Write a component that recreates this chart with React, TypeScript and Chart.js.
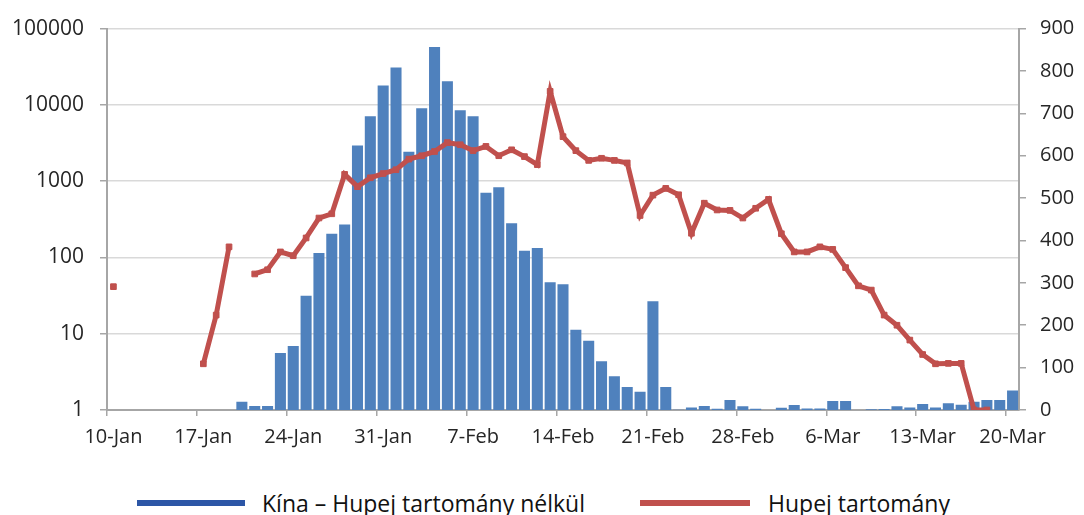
import React, { useEffect, useRef } from "react";
import { Chart, registerables } from "chart.js";

Chart.register(...registerables);

const categories: string[] = [
  "10-Jan", "11-Jan", "12-Jan", "13-Jan", "14-Jan", "15-Jan", "16-Jan",
  "17-Jan", "18-Jan", "19-Jan", "20-Jan", "21-Jan", "22-Jan", "23-Jan",
  "24-Jan", "25-Jan", "26-Jan", "27-Jan", "28-Jan", "29-Jan", "30-Jan",
  "31-Jan", "1-Feb", "2-Feb", "3-Feb", "4-Feb", "5-Feb", "6-Feb",
  "7-Feb", "8-Feb", "9-Feb", "10-Feb", "11-Feb", "12-Feb", "13-Feb",
  "14-Feb", "15-Feb", "16-Feb", "17-Feb", "18-Feb", "19-Feb", "20-Feb",
  "21-Feb", "22-Feb", "23-Feb", "24-Feb", "25-Feb", "26-Feb", "27-Feb",
  "28-Feb", "29-Feb", "1-Mar", "2-Mar", "3-Mar", "4-Mar", "5-Mar",
  "6-Mar", "7-Mar", "8-Mar", "9-Mar", "10-Mar", "11-Mar", "12-Mar",
  "13-Mar", "14-Mar", "15-Mar", "16-Mar", "17-Mar", "18-Mar", "19-Mar",
  "20-Mar",
];

const tickLabels: string[] = [
  "10-Jan", "17-Jan", "24-Jan", "31-Jan", "7-Feb", "14-Feb",
  "21-Feb", "28-Feb", "6-Mar", "13-Mar", "20-Mar",
];

// Kína – Hupej tartomány nélkül (left, log axis)
const chinaExHubei: (number | null)[] = [
  null, null, null, null, null, null, null,
  null, null, null, 1.28, 1.13, 1.13, 5.6,
  6.9, 31.5, 114, 204, 270, 2935, 7100,
  17900, 31000, 2425, 9010, 57300, 20400, 8490,
  7100, 707, 829, 281, 122, 133, 47.3,
  44.6, 11.3, 8.1, 4.35, 2.78, 2.0, 1.73,
  26.6, 2.0, 1.01, 1.08, 1.13, 1.04, 1.35,
  1.12, 1.04, null, 1.07, 1.16, 1.05, 1.05,
  1.31, 1.31, null, 1.02, 1.03, 1.12, 1.08,
  1.2, 1.08, 1.23, 1.17, 1.28, 1.35, 1.35,
  1.8,
];

// Hupej tartomány (right, linear axis)
const hubei: (number | null)[] = [
  291, null, null, null, null, null, null,
  109, 224, 385, null, 321, 331, 373,
  364, 406, 453, 463, 556, 527, 548,
  558, 567, 592, 600, 610, 631, 626,
  612, 622, 600, 614, 598, 579, 752,
  645, 612, 589, 594, 589, 583, 459,
  507, 523, 508, 417, 488, 472, 471,
  453, 476, 497, 416, 373, 373, 385,
  379, 336, 293, 283, 224, 200, 165,
  131, 109, 110, 110, 0, 0, null,
  null,
];

const leftTicks: number[] = [1, 10, 100, 1000, 10000, 100000];
const rightMax = 900;
const rightStep = 100;

const seriesNames: string[] = ["Kína – Hupej tartomány nélkül", "Hupej tartomány"];

const FONT = "'Open Sans', 'DejaVu Sans', sans-serif";
const BAR_COLOR = "#4f81bd";
const LINE_COLOR = "#c0504d";
const LEGEND_BLUE = "#2c56a6";
const GRID = "#d9d9d9";
const AXIS = "#a6a6a6";
const TEXT = "#262626";

const W = 1084;
const CH = 460;

export default function App() {
  const ref = useRef<HTMLCanvasElement | null>(null);

  useEffect(() => {
    document.body.style.margin = "0";
    const canvas = ref.current;
    if (!canvas) return;
    const chart = new Chart(canvas, {
      type: "bar",
      data: {
        labels: categories,
        datasets: [
          {
            type: "line",
            label: seriesNames[1],
            data: hubei,
            yAxisID: "y1",
            borderColor: LINE_COLOR,
            backgroundColor: LINE_COLOR,
            borderWidth: 5,
            pointStyle: "rect",
            pointRadius: 4,
            pointBorderWidth: 1,
            pointBackgroundColor: LINE_COLOR,
            pointBorderColor: LINE_COLOR,
            spanGaps: false,
            tension: 0,
            order: 0,
          } as any,
          {
            type: "bar",
            label: seriesNames[0],
            data: chinaExHubei,
            yAxisID: "y",
            backgroundColor: BAR_COLOR,
            borderWidth: 0,
            barPercentage: 0.86,
            categoryPercentage: 1,
            order: 1,
          } as any,
        ],
      },
      options: {
        responsive: false,
        animation: false,
        devicePixelRatio: 1,
        layout: { padding: { top: 21, left: 0, right: 0, bottom: 0 } },
        plugins: {
          legend: { display: false },
          tooltip: { enabled: false },
        },
        scales: {
          x: {
            type: "category",
            offset: true,
            grid: {
              offset: true,
              display: true,
              drawOnChartArea: false,
              drawTicks: true,
              tickLength: 6,
              lineWidth: 1.5,
              color: (ctx: any) =>
                typeof ctx.index === "number" && ctx.index % 7 === 0 ? AXIS : "rgba(0,0,0,0)",
            },
            border: { display: true, color: AXIS, width: 2 },
            ticks: {
              autoSkip: false,
              maxRotation: 0,
              minRotation: 0,
              padding: 9,
              color: TEXT,
              font: { family: FONT, size: 20 },
              callback: (_v: any, i: number) =>
                tickLabels.includes(categories[i]) ? categories[i] : "",
            },
            afterFit: (s: any) => {
              s.height = CH - 410;
            },
          },
          y: {
            type: "logarithmic",
            position: "left",
            min: 1,
            max: 100000,
            afterBuildTicks: (s: any) => {
              s.ticks = leftTicks.map((v) => ({ value: v }));
            },
            grid: {
              color: GRID,
              lineWidth: 1.5,
              drawTicks: true,
              tickLength: 7,
              tickColor: AXIS,
            },
            border: { display: true, color: AXIS, width: 2 },
            ticks: {
              padding: 16,
              color: TEXT,
              font: { family: FONT, size: 21 },
              callback: (v: any) => String(v),
            },
            afterFit: (s: any) => {
              s.width = 107;
            },
          },
          y1: {
            type: "linear",
            position: "right",
            min: 0,
            max: rightMax,
            ticks: {
              stepSize: rightStep,
              padding: 14,
              color: TEXT,
              font: { family: FONT, size: 20 },
            },
            grid: {
              drawOnChartArea: false,
              drawTicks: true,
              tickLength: 7,
              color: AXIS,
              tickColor: AXIS,
              lineWidth: 1.5,
            },
            border: { display: true, color: AXIS, width: 2 },
            afterFit: (s: any) => {
              s.width = W - 1019;
            },
          },
        },
      } as any,
    });
    return () => chart.destroy();
  }, []);

  const legendText: React.CSSProperties = {
    position: "absolute",
    fontFamily: FONT,
    fontSize: 23,
    lineHeight: "28px",
    color: "#111",
    whiteSpace: "nowrap",
  };

  return (
    <div style={{ position: "relative", width: W, height: 515, background: "#fff", overflow: "hidden" }}>
      <canvas ref={ref} width={W} height={CH} style={{ display: "block" }} />
      <div style={{ position: "absolute", left: 137, top: 500, width: 108, height: 6, background: LEGEND_BLUE }} />
      <div style={{ ...legendText, left: 262, top: 489 }}>{seriesNames[0]}</div>
      <div style={{ position: "absolute", left: 640, top: 500, width: 110, height: 6, background: LINE_COLOR }} />
      <div style={{ ...legendText, left: 768, top: 489 }}>{seriesNames[1]}</div>
    </div>
  );
}
